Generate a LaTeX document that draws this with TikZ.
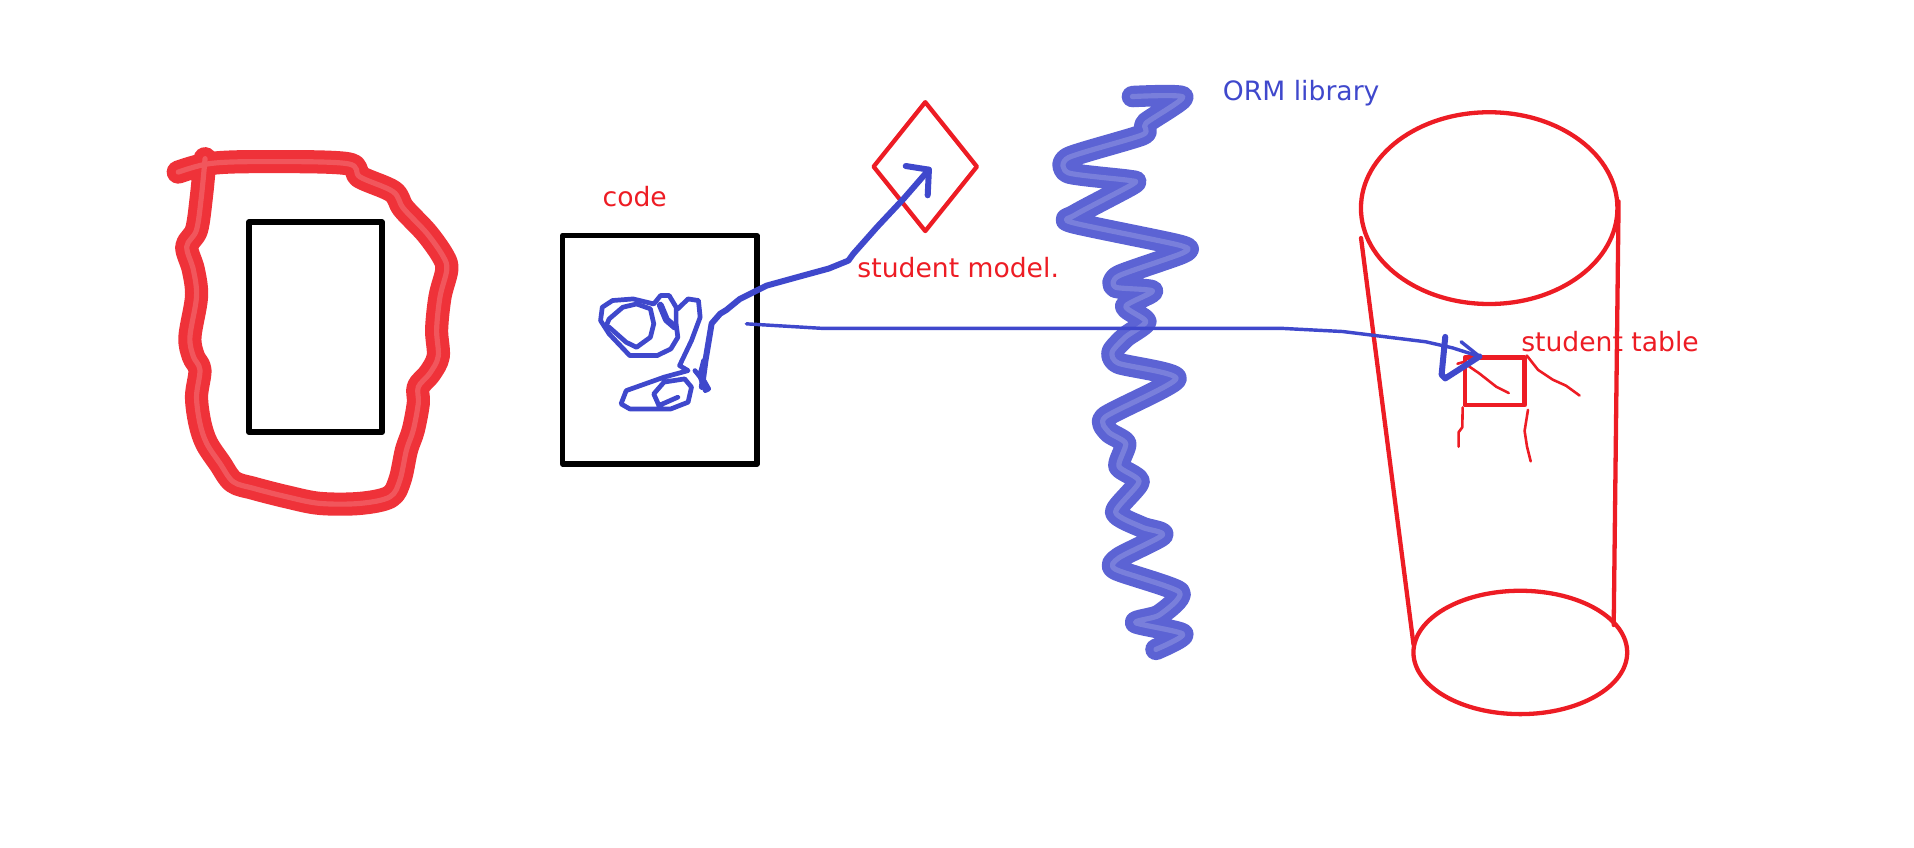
\documentclass[tikz,border=0pt]{standalone}
\usepackage{fontspec}
\setmainfont{DejaVu Sans}
\usetikzlibrary{shapes.geometric}
\definecolor{pred}{HTML}{ED1C24}
\definecolor{pblue}{HTML}{3F48CC}
\begin{document}
\begin{tikzpicture}[x=0.01cm,y=-0.01cm, line join=round, line cap=round,
  lbl/.style={font=\fontsize{6.2}{7.5}\selectfont, inner sep=0pt},
  redmarker/.style={draw=pred, line width=5.4pt, draw opacity=0.9,
    postaction={draw=white, line width=1.2pt, draw opacity=0.18}},
  bluemarker/.style={draw=pblue, line width=5pt, draw opacity=0.85,
    postaction={draw=white, line width=1.2pt, draw opacity=0.18}},
  blackbox/.style={draw=black, line width=1.3pt, inner sep=0pt, outer sep=0pt},
  redline/.style={draw=pred, line width=1pt},
  thinred/.style={draw=pred, line width=0.6pt},
  bluepen/.style={draw=pblue, line width=1.4pt},
  bluethin/.style={draw=pblue, line width=0.8pt},
  scrib/.style={draw=pblue, line width=1.1pt}]
\useasboundingbox (0,0) rectangle (1568,694);

% left red loop with black rectangle
\draw[redmarker] plot[smooth, tension=0.55] coordinates {(146,141) (172,134) (213,132.4) (284,134) (295,145) (322,157) (330.5,170.7) (349.6,191) (363,210) (366,221) (360.5,243) (357.7,270) (359,292) (352,306) (342.7,317) (342.7,330.4) (338.6,352.3) (333,368.7) (327.7,393) (319.5,407) (295,412.4) (262,412.4) (234.9,407) (207.5,400) (191,394.6) (180.2,379.6) (169.3,363.2) (163.8,346.8) (161,325) (163.8,303) (158.4,292) (155.6,276) (161,243) (158.4,221) (153,202) (161,188.4) (165,161) (168,130)};
\node[blackbox, minimum width=1.09cm, minimum height=1.72cm] (inner) at (258.5,268) {};

% code box
\node[lbl, text=pred] (codelbl) at (520,161) {code};
\node[blackbox, minimum width=1.59cm, minimum height=1.87cm] (codebox) at (540.5,286.5) {};

% scribble inside code box
\draw[scrib] plot coordinates {(493.4,251.7) (501.8,246.2) (518.7,244.9) (535.6,249) (541.2,242.1) (548.2,242.1) (553.9,251.7) (553.9,265.3) (555.3,276.3) (549.6,285.8) (538.4,291.3) (515.9,291.3) (499,273.5) (492,262.6) (493.4,251.7)};
\draw[scrib] plot coordinates {(496.2,268) (499,261.3) (510.2,251.7) (521.5,249) (532.8,253) (535.6,265.3) (532.8,276.3) (521.5,284.5) (513,280.4) (499,268)};
\draw[scrib, line width=1.6pt] (541,250) -- (546,262) -- (553,268);
\draw[scrib] plot coordinates {(555.3,253) (563.7,244.9) (572.2,246.2) (573.6,259.9) (566.5,279) (556.7,299.5) (563.7,303.6) (544,309) (513,320) (508.8,330.9) (515.9,335) (549.6,335) (563.7,329.5) (566.5,317.2) (560.9,310.4) (544,313) (535.6,322.7) (539.8,332.2) (555.3,325.4)};
\draw[scrib] plot coordinates {(569.3,303.6) (573.6,309) (577.8,320) (580.6,318.6) (573.6,306.3) (576.4,295.4)};

% diamond and arrow to it
\node[draw=pred, line width=1pt, shape=diamond, minimum width=0.86cm, minimum height=1.07cm, inner sep=0pt] (model) at (758,136.5) {};
\node[lbl, text=pred] (modellbl) at (785,219) {student model.};
\coordinate (a0) at (575,317);
\coordinate (a1) at (761,139);
\draw[bluepen] (a0) -- (578,295) -- (583,265) -- (590,257) -- (595,254) -- (606,245) -- (628,234) -- (657,226) -- (679,220) -- (695,213.5) -- (699,208) -- (718.5,186) -- (741,162) -- (a1);
\draw[bluepen] (742,136) -- (a1) -- (760,160);

% ORM library zigzag
\draw[bluemarker] plot[smooth, tension=0.4] coordinates {(927.7,79.1) (969,79.5) (938.7,101) (936,110.4) (875.4,129.1) (875.4,141.6) (925,147.8) (927.7,151) (880.9,176) (878.1,182.2) (966.2,200.9) (969,207.2) (916.7,225.9) (913.9,235.3) (944.2,238.4) (922.2,250.9) (938.7,263.4) (922.2,276) (911.1,288.4) (916.7,297.7) (963.5,310.2) (905.6,341.5) (908.4,354) (922.2,363.3) (916.7,382) (933.2,394.6) (913.9,419.5) (935.9,432) (952.4,438.3) (916.7,457) (913.9,466.4) (966.2,485.1) (949.7,503.9) (930.4,510.1) (969,519.5) (947,532)};
\node[lbl, text=pblue] (ormlbl) at (1066,76) {ORM library};

% cylinder
\node[draw=pred, line width=1pt, shape=ellipse, minimum width=2.1cm, minimum height=1.57cm, inner sep=0pt] (cyltop) at (1220,170.5) {};
\node[draw=pred, line width=1pt, shape=ellipse, minimum width=1.75cm, minimum height=1.01cm, inner sep=0pt] (cylbot) at (1245.5,534.5) {};
\coordinate (lt) at (1115,195);
\coordinate (lb) at (1158,528);
\coordinate (rt) at (1326,165);
\coordinate (rb) at (1322,512);
\draw[redline] (lt) -- (lb);
\draw[redline] (rt) -- (rb);

% student table
\node[draw=pred, line width=1pt, minimum width=0.49cm, minimum height=0.39cm, inner sep=0pt] (table) at (1224.5,312.5) {};
\node[lbl, text=pred] (tablelbl) at (1319,280) {student table};
\draw[thinred] (1194,298) -- (1201,296);
\draw[thinred] (table.north west) ++(1,6) -- (1212,306) -- (1226,317) -- (1236,322);
\draw[thinred] (table.north east) -- (1260,303) -- (1272,311) -- (1283,316) -- (1294,324);
\draw[thinred] (table.south west) -- (1198,350) -- (1195,354) -- (1195,366);
\draw[thinred] (table.south east) ++(1,2) -- (1249,353) -- (1251,366) -- (1254,378);

% long arrow from code to table
\coordinate (b0) at (611.5,265.3);
\coordinate (b1) at (1212,292);
\draw[bluethin] (b0) -- (673.5,269) -- (1050,269) -- (1100,271.6) -- (1168,280) -- (1190,285) -- (b1);
\draw[bluepen] (1184,276) -- (1181,307) -- (1184,310) -- (b1);
\draw[bluethin] (1197,280) -- (b1);
\end{tikzpicture}
\end{document}
